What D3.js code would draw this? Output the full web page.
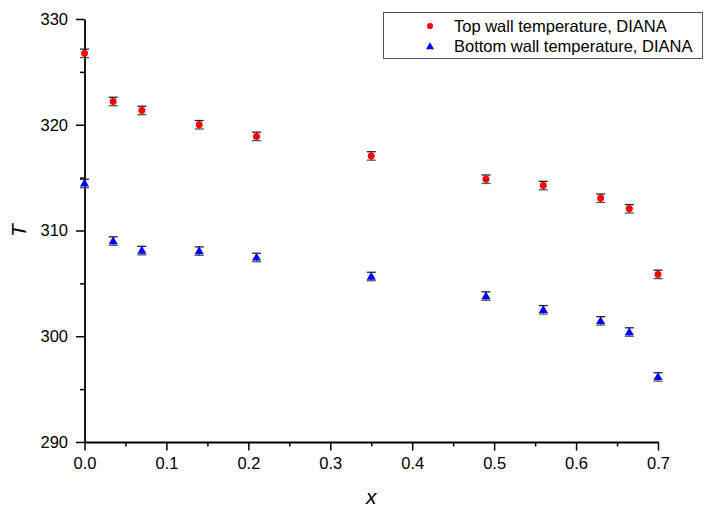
<!DOCTYPE html>
<html>
<head>
<meta charset="utf-8">
<script src="https://cdn.jsdelivr.net/npm/d3@7"></script>
<style>
  html, body { margin: 0; padding: 0; background: #fff; }
  svg { display: block; font-family: Arial, "Liberation Sans", sans-serif; }
</style>
</head>
<body>
<svg id="chart" width="706" height="509"></svg>
<script>
// ---- data ----
const xPositions = [0, 0.035, 0.07, 0.14, 0.21, 0.35, 0.49, 0.56, 0.63, 0.665, 0.7];
const topWall    = [326.75, 322.2, 321.35, 320.0, 318.9, 317.05, 314.85, 314.25, 313.05, 312.05, 305.85];
const topErr     = [0.4, 0.4, 0.4, 0.4, 0.4, 0.4, 0.4, 0.4, 0.4, 0.4, 0.4];
const bottomWall = [314.45, 309.0, 308.1, 308.05, 307.45, 305.65, 303.8, 302.5, 301.45, 300.4, 296.15];
const bottomErr  = [0.4, 0.4, 0.4, 0.4, 0.4, 0.4, 0.4, 0.4, 0.4, 0.4, 0.4];
const xTicks = [0, 0.1, 0.2, 0.3, 0.4, 0.5, 0.6, 0.7];
const xMinorTicks = [0.05, 0.15, 0.25, 0.35, 0.45, 0.55, 0.65];
const yTicks = [290, 300, 310, 320, 330];
const yMinorTicks = [295, 305, 315, 325];
const seriesNames = ["Top wall temperature, DIANA", "Bottom wall temperature, DIANA"];

// ---- layout ----
const svg = d3.select("#chart");
const x = d3.scaleLinear().domain([0, 0.7]).range([84.5, 658]);
const y = d3.scaleLinear().domain([290, 330]).range([442, 19]);

// axes
const gx = svg.append("g").attr("transform", `translate(0,${y(290)})`);
gx.call(d3.axisBottom(x).tickValues(xMinorTicks).tickSize(4.5).tickFormat(""));
gx.select(".domain").remove();
const gx2 = svg.append("g").attr("transform", `translate(0,${y(290)})`);
gx2.call(d3.axisBottom(x).tickValues(xTicks).tickSize(8.5).tickSizeOuter(0).tickPadding(7).tickFormat(d3.format(".1f")));

const gy = svg.append("g").attr("transform", `translate(${x(0)},0)`);
gy.call(d3.axisLeft(y).tickValues(yMinorTicks).tickSize(4.5).tickFormat(""));
gy.select(".domain").remove();
const gy2 = svg.append("g").attr("transform", `translate(${x(0)},0)`);
gy2.call(d3.axisLeft(y).tickValues(yTicks).tickSize(8.5).tickSizeOuter(0).tickPadding(8).tickFormat(d3.format("d")));

svg.selectAll(".domain").attr("stroke", "#000").attr("stroke-width", 1.8);
svg.selectAll(".tick line").attr("stroke", "#000").attr("stroke-width", 1.5);
svg.selectAll(".tick text").attr("font-size", 16.5).attr("fill", "#000")
   .attr("font-family", "Arial, 'Liberation Sans', sans-serif");

// axis titles
svg.append("text").attr("x", x(0.35)).attr("y", 504)
  .attr("text-anchor", "middle").attr("font-size", 21).attr("font-style", "italic").text("x");
svg.append("text").attr("transform", `translate(26,${(y(290) + y(330)) / 2}) rotate(-90)`)
  .attr("text-anchor", "middle").attr("font-size", 21).attr("font-style", "italic").text("T");

// series
function drawSeries(vals, errs, color, shape) {
  const data = xPositions.map((d, i) => ({ x: d, y: vals[i], e: errs[i] }));
  const g = svg.append("g");
  const eb = g.selectAll("g.eb").data(data).join("g").attr("class", "eb");
  eb.append("line").attr("x1", d => x(d.x)).attr("x2", d => x(d.x))
    .attr("y1", d => y(d.y + d.e)).attr("y2", d => y(d.y - d.e))
    .attr("stroke", "#222").attr("stroke-width", 1);
  eb.append("line").attr("x1", d => x(d.x) - 4.5).attr("x2", d => x(d.x) + 4.5)
    .attr("y1", d => y(d.y + d.e)).attr("y2", d => y(d.y + d.e))
    .attr("stroke", "#222").attr("stroke-width", 1.3);
  eb.append("line").attr("x1", d => x(d.x) - 4.5).attr("x2", d => x(d.x) + 4.5)
    .attr("y1", d => y(d.y - d.e)).attr("y2", d => y(d.y - d.e))
    .attr("stroke", "#555").attr("stroke-width", 1.3);
  const sym = d3.symbol().type(shape).size(shape === d3.symbolCircle ? 38 : 36);
  g.selectAll("path.m").data(data).join("path").attr("class", "m")
    .attr("d", sym)
    .attr("transform", d => `translate(${x(d.x)},${y(d.y) + (shape === d3.symbolTriangle ? 0.5 : 0)})`)
    .attr("fill", color);
}
drawSeries(topWall, topErr, "#ff0000", d3.symbolCircle);
drawSeries(bottomWall, bottomErr, "#0000ff", d3.symbolTriangle);

// legend
const lg = svg.append("g");
lg.append("rect").attr("x", 383.5).attr("y", 12.5).attr("width", 319).attr("height", 46)
  .attr("fill", "#fff").attr("stroke", "#555").attr("stroke-width", 1);
const colors = ["#ff0000", "#0000ff"];
const shapes = [d3.symbolCircle, d3.symbolTriangle];
seriesNames.forEach((name, i) => {
  const cy = 26 + i * 20.5;
  lg.append("path").attr("d", d3.symbol().type(shapes[i]).size(i === 0 ? 30 : 28)())
    .attr("transform", `translate(430,${cy + (i === 1 ? 0.5 : 0)})`).attr("fill", colors[i]);
  lg.append("text").attr("x", 454).attr("y", cy + 5.5).attr("font-size", 16.5)
    .attr("fill", "#000").text(name);
});
</script>
</body>
</html>
